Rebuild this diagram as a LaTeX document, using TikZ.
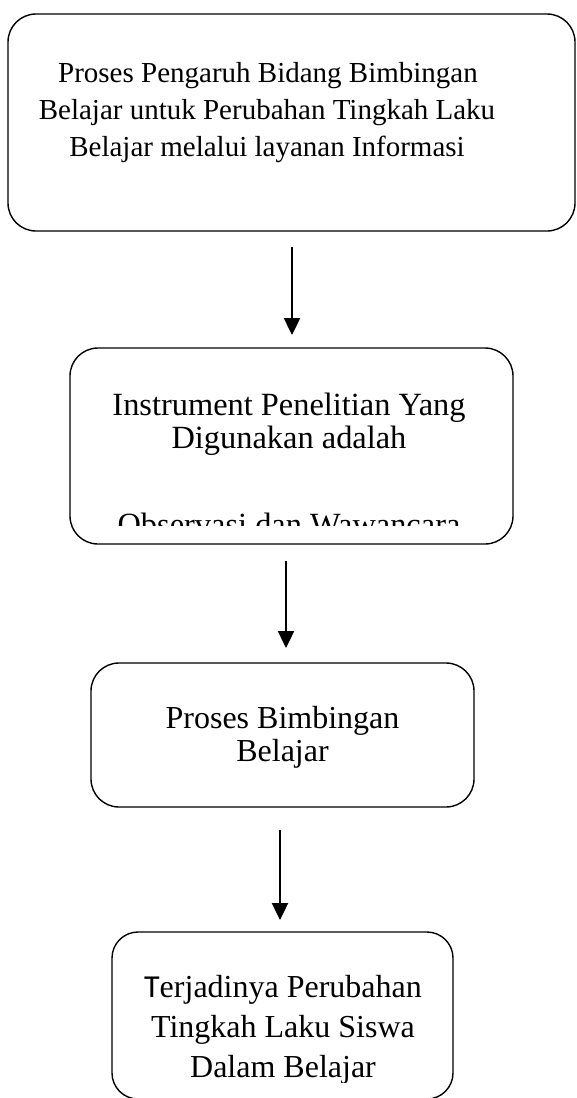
\documentclass[tikz,border=0pt]{standalone}
\usepackage{fontspec}
\setmainfont{Liberation Serif}
\newfontfamily\calfont{Carlito}
\usetikzlibrary{arrows.meta}
\tikzset{
  box/.style={draw=black, line width=1.4pt, rounded corners=28pt},
  ln/.style={anchor=base, inner sep=0pt, font=\fontsize{29}{35}\selectfont},
  lnb/.style={anchor=base, inner sep=0pt, font=\fontsize{32}{36}\selectfont},
  arr/.style={line width=2.4pt, -{Triangle[width=16pt,length=17pt]}},
}
\begin{document}
\begin{tikzpicture}[x=1pt,y=-1pt]
\useasboundingbox (0,0) rectangle (576,1098);
% boxes
\draw[box] (8,14) rectangle (575,231);
\coordinate (b1s) at (292,231);
\draw[box] (70,348) rectangle (513,544);
\coordinate (b2n) at (292,348);
\coordinate (b2s) at (286,544);
\draw[box] (91,663) rectangle (474,807);
\coordinate (b3n) at (286,663);
\coordinate (b3s) at (280,807);
\begin{scope}
\clip (0,0) rectangle (576,1098);
\draw[box, rounded corners=26pt] (112,932) rectangle (453,1099);
\end{scope}
\coordinate (b4n) at (280,932);
% texts box1
\node[ln] (t11) at (268,82) {Proses Pengaruh Bidang Bimbingan};
\node[ln] (t12) at (267,119) {Belajar untuk Perubahan Tingkah Laku};
\node[ln] (t13) at (267,156) {Belajar melalui layanan Informasi};
% box2
\node[lnb, font=\fontsize{32.4}{36}\selectfont] (t21) at (289,415) {Instrument Penelitian Yang};
\node[lnb, font=\fontsize{32.4}{36}\selectfont] (t22) at (289,448) {Digunakan adalah};
\begin{scope}
\clip (70,348) rectangle (513,525);
\node[lnb, font=\fontsize{32.4}{36}\selectfont] (t23) at (289,535) {Observasi dan Wawancara};
\end{scope}
% box3
\node[lnb] (t31) at (282.5,728) {Proses Bimbingan};
\node[lnb] (t32) at (282.5,761) {Belajar};
% box4
\node[lnb] (t41) at (283,997) {{\calfont T}erjadinya Perubahan};
\node[lnb] (t42) at (283,1037) {Tingkah Laku Siswa};
\begin{scope}
\clip (100,932) rectangle (470,1082);
\node[lnb] (t43) at (283,1077) {Dalam Belajar};
\end{scope}
% arrows
\draw[arr] ([yshift=-16pt]b1s) -- ([yshift=13pt]b2n -| b1s);
\draw[arr] ([yshift=-17pt]b2s) -- ([yshift=15pt]b3n -| b2s);
\draw[arr] ([yshift=-23pt]b3s) -- ([yshift=12pt]b4n -| b3s);
\end{tikzpicture}
\end{document}
